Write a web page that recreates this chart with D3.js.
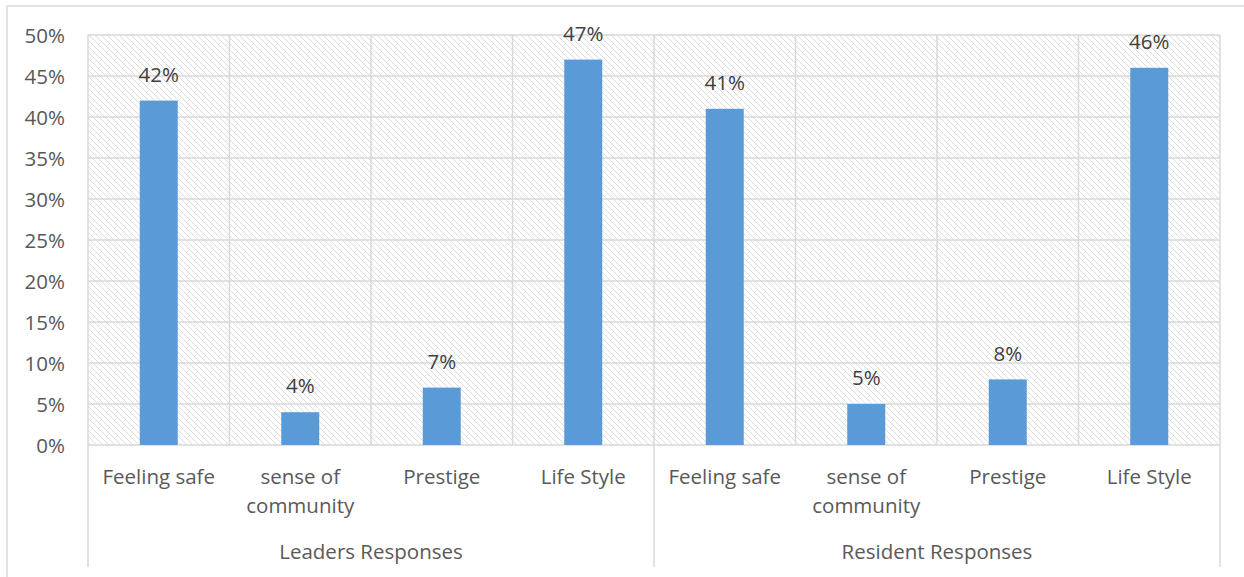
<!DOCTYPE html>
<html><head><meta charset="utf-8">
<script src="https://cdn.jsdelivr.net/npm/d3@7"></script>
<style>body{margin:0;background:#fff}svg{display:block}</style>
</head><body><svg id="c" width="1244" height="577"></svg>
<script>
const groups = ["Leaders Responses", "Resident Responses"];
const categories = ["Feeling safe", "sense of community", "Prestige", "Life Style"];
const leaders = [42, 4, 7, 47];
const residents = [41, 5, 8, 46];
const yTicks = [0, 5, 10, 15, 20, 25, 30, 35, 40, 45, 50];

const rows = [];
groups.forEach((g, gi) => categories.forEach((c, ci) => rows.push({g, c, key: gi + "-" + ci, v: (gi ? residents : leaders)[ci]})));

const svg = d3.select("#c");
const font = "'Open Sans', sans-serif";
const fs = 20.5;
const txt = "#595959", grid = "#d9d9d9";
const L = 88, R = 1220, T = 35, B = 445;

const defs = svg.append("defs");
const pat = defs.append("pattern").attr("id", "hatch").attr("patternUnits", "userSpaceOnUse")
  .attr("width", 6).attr("height", 6);
pat.append("path").attr("d", "M-1,-1 L7,7 M-1,5 L1,7 M5,-1 L7,1").attr("stroke", "#dcdcdc").attr("stroke-width", 1);

// outer border
svg.append("rect").attr("x", 7).attr("y", 6).attr("width", 1260).attr("height", 600)
  .attr("fill", "none").attr("stroke", grid).attr("stroke-width", 1.5);

const x = d3.scaleBand().domain(rows.map(d => d.key)).range([L, R]).paddingInner(0).paddingOuter(0);
const y = d3.scaleLinear().domain([0, 50]).range([B, T]);

svg.append("rect").attr("x", L).attr("y", T).attr("width", R - L).attr("height", B - T).attr("fill", "url(#hatch)");

// horizontal gridlines
svg.append("g").selectAll("line").data(yTicks).join("line")
  .attr("x1", L).attr("x2", R).attr("y1", d => y(d)).attr("y2", d => y(d))
  .attr("stroke", grid).attr("stroke-width", 1.5);
// vertical gridlines
const bounds = rows.map(d => x(d.key)).concat([R]);
svg.append("g").selectAll("line").data(bounds).join("line")
  .attr("x1", d => d).attr("x2", d => d).attr("y1", T).attr("y2", B)
  .attr("stroke", grid).attr("stroke-width", 1.5);
// group separators below axis
const groupEdges = [L, x("1-0"), R];
svg.append("g").selectAll("line").data(groupEdges).join("line")
  .attr("x1", d => d).attr("x2", d => d).attr("y1", B).attr("y2", 567)
  .attr("stroke", grid).attr("stroke-width", 1.5);

// y axis labels
const yAxis = d3.axisLeft(y).tickValues(yTicks).tickFormat(d => d + "%").tickSize(0).tickPadding(0);
const ya = svg.append("g").attr("transform", `translate(65,0)`).call(yAxis);
ya.select(".domain").remove();
ya.selectAll("text").attr("fill", txt).attr("font-family", font).attr("font-size", fs).attr("dy", "0.35em");

// bars
const bw = 38;
svg.append("g").selectAll("rect").data(rows).join("rect")
  .attr("x", d => x(d.key) + x.bandwidth() / 2 - bw / 2).attr("width", bw)
  .attr("y", d => y(d.v)).attr("height", d => B - y(d.v)).attr("fill", "#5b9bd5");

// data labels
svg.append("g").selectAll("text").data(rows).join("text")
  .attr("x", d => x(d.key) + x.bandwidth() / 2).attr("y", d => y(d.v) - 26).attr("dy", "0.35em")
  .attr("text-anchor", "middle").attr("fill", "#404040").attr("font-family", font).attr("font-size", fs)
  .text(d => d.v + "%");

// category labels
const cl = svg.append("g").selectAll("text").data(rows).join("text")
  .attr("text-anchor", "middle").attr("fill", txt).attr("font-family", font).attr("font-size", fs);
cl.each(function(d) {
  const t = d3.select(this);
  const lines = d.c === "sense of community" ? ["sense of", "community"] : [d.c];
  lines.forEach((ln, i) => t.append("tspan").attr("x", x(d.key) + x.bandwidth() / 2).attr("y", 477 + i * 29).attr("dy", "0.35em").text(ln));
});

// group labels
svg.append("g").selectAll("text").data(groups).join("text")
  .attr("x", (d, i) => (groupEdges[i] + groupEdges[i + 1]) / 2).attr("y", 552).attr("dy", "0.35em")
  .attr("text-anchor", "middle").attr("fill", txt).attr("font-family", font).attr("font-size", fs)
  .text(d => d);
</script></body></html>
